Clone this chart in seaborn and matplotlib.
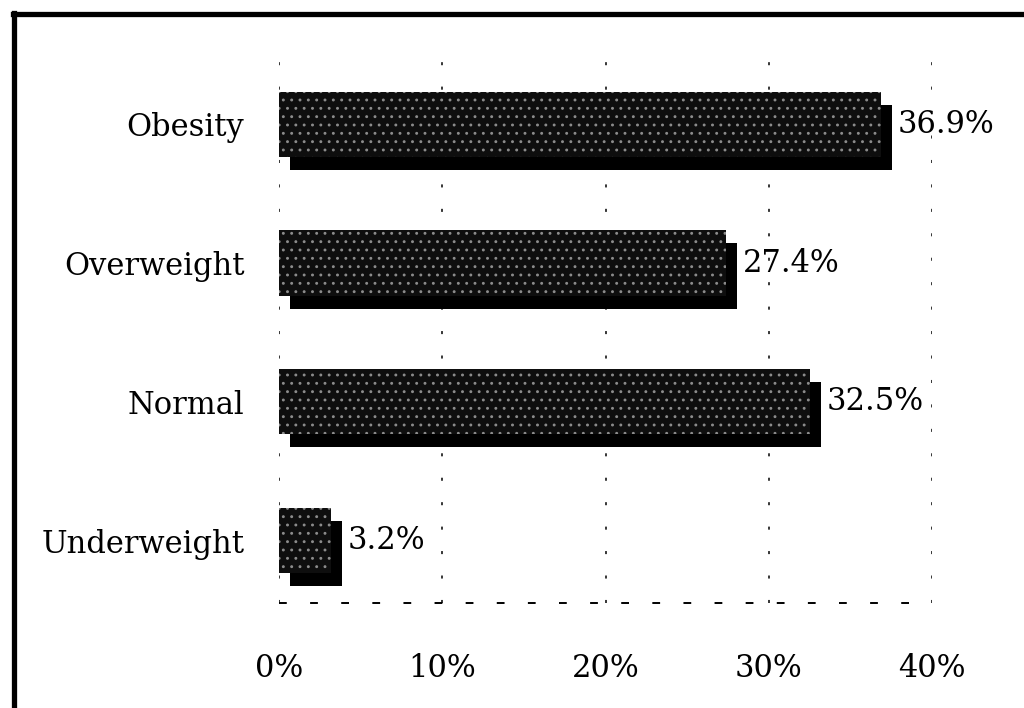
import matplotlib
matplotlib.use("Agg")
import matplotlib.pyplot as plt
import matplotlib.transforms as mtransforms
from matplotlib.lines import Line2D
import seaborn as sns
import pandas as pd

# BMI category shares (%)
categories = ["Obesity", "Overweight", "Normal", "Underweight"]
shares = [36.9, 27.4, 32.5, 3.2]
tick_values = [0, 10, 20, 30, 40]
tick_labels = ["0%", "10%", "20%", "30%", "40%"]

df = pd.DataFrame({"category": categories, "share": shares})

sns.set_theme(style="white")
plt.rcParams["font.family"] = ["DejaVu Serif"]
plt.rcParams["hatch.linewidth"] = 0.9

fig = plt.figure(figsize=(10.24, 7.08), dpi=100)
ax = fig.add_axes([279 / 1024, 105 / 708, 653 / 1024, 548 / 708])

# Drop shadow: a black copy of the bars, shifted right and down
sns.barplot(data=df, x="share", y="category", order=categories, orient="h",
            color="black", width=0.47, saturation=1, ax=ax, zorder=2)
shadow_patches = list(ax.patches)
shift = mtransforms.ScaledTranslation(11 / 100, -13 / 100, fig.dpi_scale_trans)
for p in shadow_patches:
    p.set_linewidth(0)
    p.set_transform(ax.transData + shift)

# Stippled bar faces
sns.barplot(data=df, x="share", y="category", order=categories, orient="h",
            color="#1e1e1e", width=0.47, saturation=1, ax=ax, zorder=3)
for p in ax.patches[len(shadow_patches):]:
    p.set_facecolor("#0e0e0e")
    p.set_edgecolor("#8c8c8c")
    p.set_hatch("..")
    p.set_linewidth(0)

# Value labels
for i, v in enumerate(shares):
    ax.annotate(f"{v:.1f}%", xy=(v, i), xytext=(12, 0), textcoords="offset points",
                ha="left", va="center", fontsize=22, color="black", zorder=5)

ax.set_xlim(0, 40)
ax.set_ylim(3.45, -0.5)
ax.set_xticks(tick_values)
ax.set_xticklabels(tick_labels)
ax.set_xlabel("")
ax.set_ylabel("")
ax.tick_params(axis="x", length=0, pad=36, labelsize=22, colors="black")
ax.tick_params(axis="y", length=0, pad=25, labelsize=22, colors="black")

# Sparse dotted vertical gridlines
for t in tick_values:
    ax.axvline(t, color="black", lw=1.1, ls=(0, (2, 14)), zorder=1)

for s in ax.spines.values():
    s.set_visible(False)
# Broken baseline along the bottom of the plot area
ax.axhline(3.45, color="black", lw=1.4, ls=(0, (4, 12)), zorder=1, clip_on=False)

# Outer frame (top and left edges)
fig.add_artist(Line2D([13 / 1024, 1.0], [1 - 13.5 / 708, 1 - 13.5 / 708],
                      transform=fig.transFigure, color="black", lw=3.8,
                      solid_capstyle="projecting"))
fig.add_artist(Line2D([13.5 / 1024, 13.5 / 1024], [0.0, 1 - 13 / 708],
                      transform=fig.transFigure, color="black", lw=3.8,
                      solid_capstyle="projecting"))

fig.savefig("out.png", dpi=100, facecolor="white")
